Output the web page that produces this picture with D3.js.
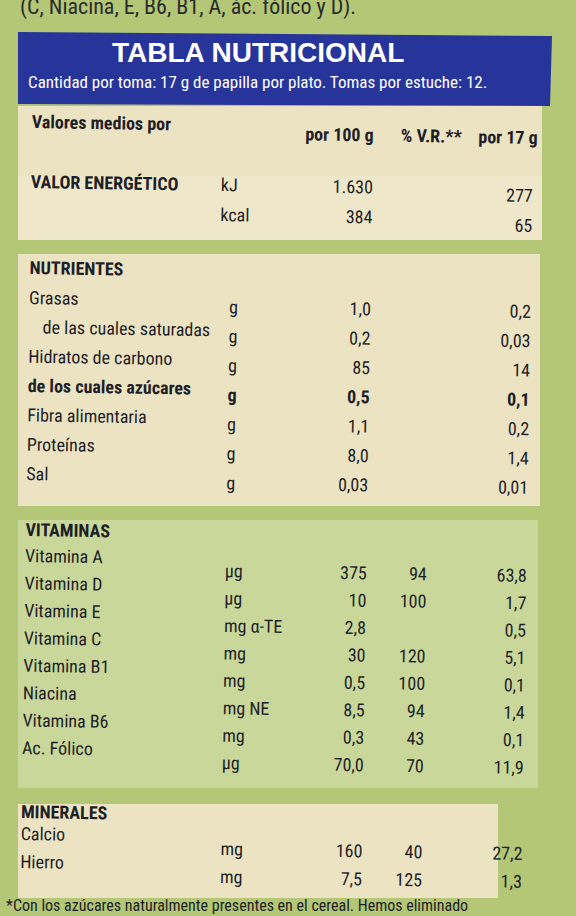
<!DOCTYPE html>
<html><head><meta charset="utf-8">
<script src="https://cdn.jsdelivr.net/npm/d3@7"></script>
<style>body{margin:0;background:#b3c777}svg text{font-family:"Liberation Sans Narrow","Roboto Condensed","Liberation Sans",sans-serif}</style>
</head><body><div id="container"></div>
<script>
var width = 576, height = 916;

// datos de la tabla
var colHeads = ["por 100 g", "% V.R.**", "por 17 g"];
var energia = [["kJ", "1.630", "", "277"], ["kcal", "384", "", "65"]];
var nutLabels = ["Grasas", "de las cuales saturadas", "Hidratos de carbono", "de los cuales azúcares", "Fibra alimentaria", "Proteínas", "Sal"];
var nutUnits = ["g", "g", "g", "g", "g", "g", "g"];
var nut100 = ["1,0", "0,2", "85", "0,5", "1,1", "8,0", "0,03"];
var nut17 = ["0,2", "0,03", "14", "0,1", "0,2", "1,4", "0,01"];
var vitLabels = ["Vitamina A", "Vitamina D", "Vitamina E", "Vitamina C", "Vitamina B1", "Niacina", "Vitamina B6", "Ac. Fólico"];
var vitUnits = ["µg", "µg", "mg α-TE", "mg", "mg", "mg NE", "mg", "µg"];
var vit100 = ["375", "10", "2,8", "30", "0,5", "8,5", "0,3", "70,0"];
var vitVR = ["94", "100", "", "120", "100", "94", "43", "70"];
var vit17 = ["63,8", "1,7", "0,5", "5,1", "0,1", "1,4", "0,1", "11,9"];
var minLabels = ["Calcio", "Hierro"];
var minUnits = ["mg", "mg"];
var min100 = ["160", "7,5"];
var minVR = ["40", "125"];
var min17 = ["27,2", "1,3"];

var svg = d3.select("#container").append("svg")
    .attr("width", width).attr("height", height);

// fondo verde
svg.append("rect").attr("width", width).attr("height", height).attr("fill", "#b3c777");
svg.append("text").attr("x", 20).attr("y", 14).attr("font-size", 22).attr("fill", "#2b2b2b")
    .text("(C, Niacina, E, B6, B1, A, ác. fólico y D).");

// paneles
var panels = [[18, 106, 524, 70, "#ece3c3"], [18, 176, 524, 64, "#efe7c9"], [18, 254, 522, 252, "#ece3c3"],
              [18, 520, 520, 268, "#c9d79a"], [18, 804, 480, 94, "#ece3c3"]];
svg.selectAll(".panel").data(panels).enter().append("rect")
    .attr("x", d => d[0]).attr("y", d => d[1]).attr("width", d => d[2]).attr("height", d => d[3])
    .attr("fill", d => d[4]);

// cabecera azul
svg.append("path").attr("d", "M18,32 L552,36 L550,106 L18,104 Z").attr("fill", "#27349a");
svg.append("text").attr("x", 112).attr("y", 62).attr("font-size", 28).attr("font-weight", "bold")
    .attr("fill", "#fff").style("font-family", "Liberation Sans, Arial, sans-serif").text("TABLA NUTRICIONAL");
svg.append("text").attr("x", 28).attr("y", 88).attr("font-size", 17).attr("fill", "#fff")
    .text("Cantidad por toma: 17 g de papilla por plato. Tomas por estuche: 12.");

var g = svg.append("g").attr("transform", "rotate(0.9 280 500)").attr("fill", "#1e1e26");
var xLabel = 26, xUnit = 216, x100 = 368, xVR = 448, x17 = 528;

function txt(x, y, s, opt) {
    opt = opt || {};
    g.append("text").attr("x", x).attr("y", y).attr("font-size", opt.size || 18)
        .attr("font-weight", opt.bold ? "bold" : null)
        .attr("text-anchor", opt.anchor || "start").text(s);
}

// encabezado columnas
txt(xLabel, 132, "Valores medios por", {bold: true});
colHeads.forEach((h, i) => txt([x100, xVR + 8, x17 + 4][i], 140, h, {bold: true, anchor: "end"}));

// energia
txt(xLabel, 192, "VALOR ENERGÉTICO", {bold: true});
var yEn = d3.scalePoint().domain([0, 1]).range([192, 222]);
energia.forEach((r, i) => {
    txt(xUnit, yEn(i), r[0]);
    txt(x100, yEn(i), r[1], {anchor: "end"});
    txt(x17, yEn(i) + 6, r[3], {anchor: "end"});
});

function section(title, yTitle, labels, units, v100, vr, v17, y0, y1, lift) {
    txt(xLabel, yTitle, title, {bold: true});
    var y = d3.scalePoint().domain(labels).range([y0, y1]);
    labels.forEach((l, i) => {
        var bold = l === "de los cuales azúcares";
        var indent = l.indexOf("de las") === 0 ? 14 : 0;
        txt(xLabel + indent, y(l) - lift, l, {bold: bold});
        txt(xUnit + 10, y(l), units[i], {bold: bold});
        txt(x100, y(l), v100[i], {anchor: "end", bold: bold});
        if (vr) txt(xVR - 20, y(l), vr[i], {anchor: "end"});
        txt(x17, y(l), v17[i], {anchor: "end", bold: bold});
    });
}

section("NUTRIENTES", 278, nutLabels, nutUnits, nut100, null, nut17, 314, 490, 6);
section("VITAMINAS", 540, vitLabels, vitUnits, vit100, vitVR, vit17, 578, 770, 12);
section("MINERALES", 822, minLabels, minUnits, min100, minVR, min17, 856, 884, 12);

svg.append("text").attr("x", 6).attr("y", 911).attr("font-size", 16).attr("fill", "#1e1e26")
    .text("*Con los azúcares naturalmente presentes en el cereal. Hemos eliminado");
</script></body></html>
